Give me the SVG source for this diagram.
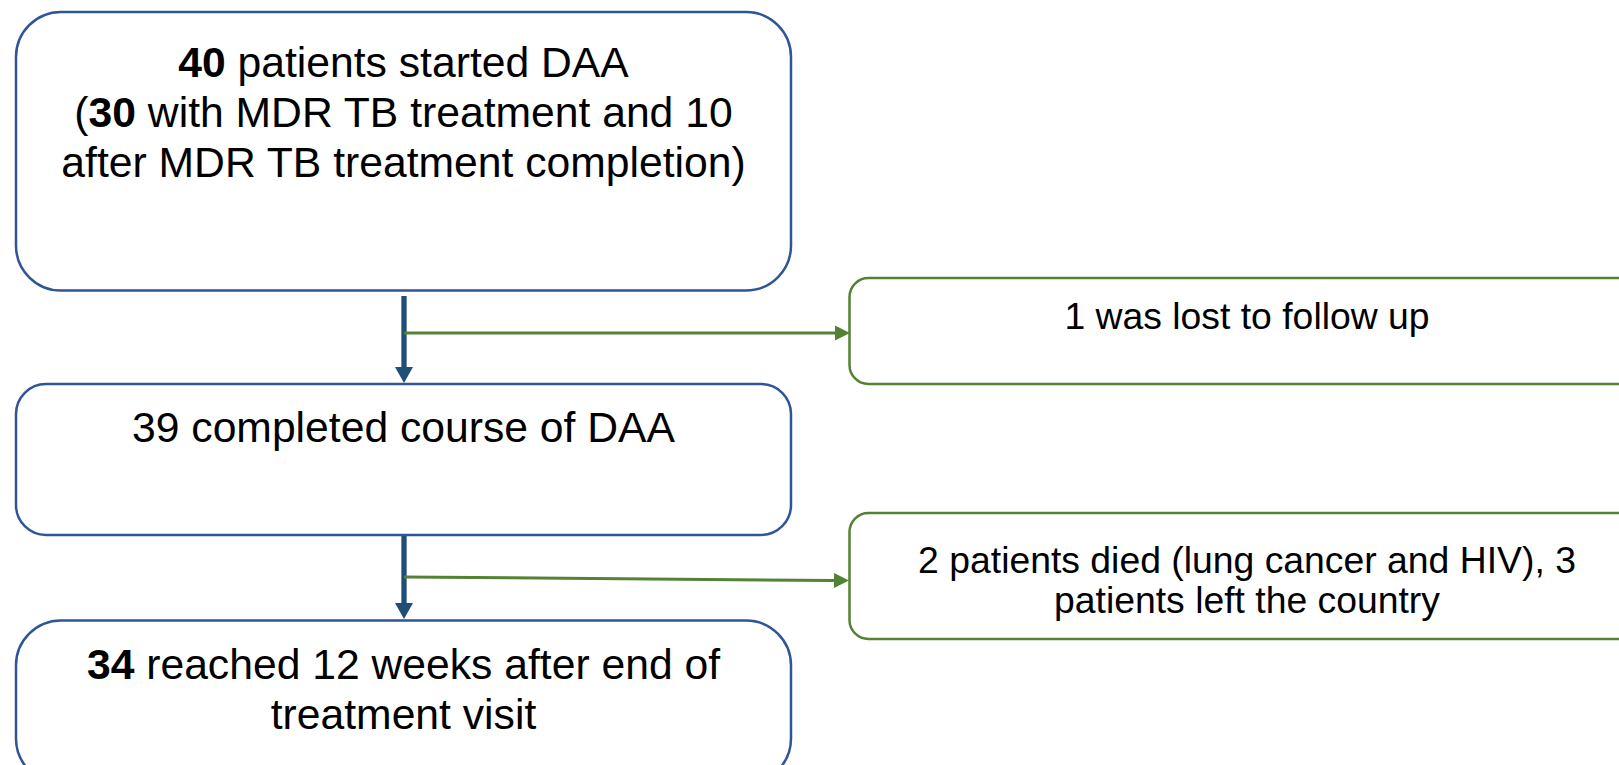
<svg xmlns="http://www.w3.org/2000/svg" width="1619" height="765" viewBox="0 0 1619 765">
<style>
.bbox{fill:#FFFFFF;stroke:#2F5597;stroke-width:2.5}
.gbox{fill:#FFFFFF;stroke:#548235;stroke-width:2.5}
.tl{font-family:"Liberation Sans",Arial,sans-serif;font-size:42.67px;fill:#000000;text-anchor:middle}
.tr{font-family:"Liberation Sans",Arial,sans-serif;font-size:37.33px;fill:#000000;text-anchor:middle}
.b{font-weight:bold}
.blue{stroke:#1F4E79;stroke-width:5.3;fill:none}
.green{stroke:#548235;stroke-width:3;fill:none}
</style>
<defs>
<marker id="ab" markerUnits="userSpaceOnUse" markerWidth="16" markerHeight="18" refX="0" refY="9" orient="auto" overflow="visible">
<path d="M0,0 L16,9 L0,18 z" fill="#1F4E79"/>
</marker>
<marker id="ag" markerUnits="userSpaceOnUse" markerWidth="15" markerHeight="15" refX="0" refY="7.5" orient="auto" overflow="visible">
<path d="M0,0 L15,7.5 L0,15 z" fill="#548235"/>
</marker>
</defs>
<rect width="1619" height="765" fill="#FFFFFF"/>
<g id="connectors">
<line class="blue" x1="404" y1="296" x2="404" y2="367" marker-end="url(#ab)"/>
<line class="green" x1="404" y1="333" x2="835" y2="333" marker-end="url(#ag)"/>
<line class="blue" x1="404" y1="536" x2="404" y2="603" marker-end="url(#ab)"/>
<line class="green" x1="404" y1="577" x2="834" y2="580.5" marker-end="url(#ag)"/>
</g>
<g id="node-started">
<rect class="bbox" x="16" y="12" width="775" height="278.5" rx="45" ry="45"/>
<text class="tl" x="403.5" y="77"><tspan class="b">40</tspan> patients started DAA</text>
<text class="tl" x="403.5" y="127">(<tspan class="b">30</tspan> with MDR TB treatment and 10</text>
<text class="tl" x="403.5" y="177">after MDR TB treatment completion)</text>
</g>
<g id="node-completed">
<rect class="bbox" x="16" y="384" width="775" height="151" rx="30" ry="30"/>
<text class="tl" x="403.5" y="442">39 completed course of DAA</text>
</g>
<g id="node-reached">
<rect class="bbox" x="16" y="620.5" width="775" height="163" rx="45" ry="45"/>
<text class="tl" x="403.5" y="679"><tspan class="b">34</tspan> reached 12 weeks after end of</text>
<text class="tl" x="403.5" y="729">treatment visit</text>
</g>
<g id="node-lost">
<rect class="gbox" x="849.5" y="278" width="795" height="106" rx="19" ry="19"/>
<text class="tr" x="1247" y="329">1 was lost to follow up</text>
</g>
<g id="node-died">
<rect class="gbox" x="849.5" y="513" width="795" height="126" rx="19" ry="19"/>
<text class="tr" x="1247" y="573">2 patients died (lung cancer and HIV), 3</text>
<text class="tr" x="1247" y="613">patients left the country</text>
</g>
</svg>
